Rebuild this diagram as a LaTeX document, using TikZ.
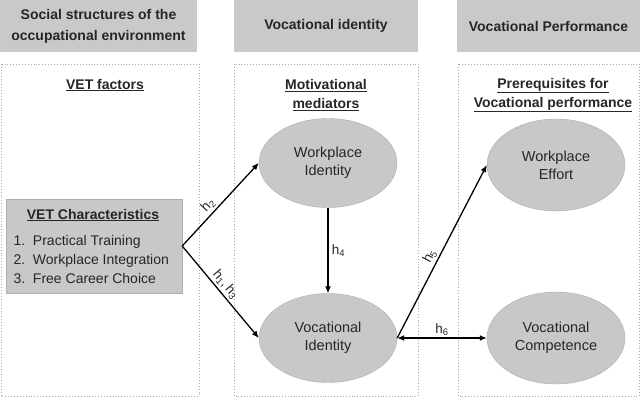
\documentclass[tikz,border=0pt]{standalone}
\usepackage{fontspec}
\setmainfont{Liberation Sans}
\usetikzlibrary{arrows.meta,positioning,shapes.geometric}
\definecolor{HeadGray}{HTML}{C9C9C9}
\definecolor{EllGray}{HTML}{C8C8C8}
\definecolor{EllLine}{HTML}{ADADAD}
\definecolor{PanelLine}{HTML}{A8A8A8}
\definecolor{InkGray}{HTML}{262626}
\tikzset{
  header/.style={fill=HeadGray, align=center, text=InkGray, inner sep=0pt,
    font=\bfseries\fontsize{14}{21}\selectfont, minimum height=52pt},
  panel/.style={draw=PanelLine, dotted, line width=0.9pt},
  subhead/.style={align=center, text=InkGray, font=\bfseries\fontsize{14}{19}\selectfont},
  factor/.style={ellipse, draw=EllLine, fill=EllGray, align=center, text=InkGray,
    inner sep=0pt, font=\fontsize{14.5}{18}\selectfont, minimum width=138pt, minimum height=89pt},
  vetbox/.style={draw=EllLine, fill=EllGray, minimum width=176pt, minimum height=94pt},
  wire/.style={-{Latex[length=7pt,width=6pt]}, line width=1.3pt},
  hlabel/.style={font=\fontsize{13.5}{15}\selectfont, text=InkGray, sloped, above, inner sep=2pt}
}
\begin{document}
\begin{tikzpicture}[x=1pt,y=1pt]
  \useasboundingbox (0,0) rectangle (640,400);
  \node[header, minimum width=197pt] (hsocial) at (98.5,374) {Social structures of the\\occupational environment};
  \node[header, minimum width=184pt] (hident) at (326,374) {Vocational identity};
  \node[header, minimum width=183pt] (hperf) at (548.5,374) {Vocational Performance};
  \draw[panel] (1,336) rectangle (199,4);
  \draw[panel] (234,336) rectangle (418,4);
  \draw[panel] (458,336) rectangle (639,4);
  \node[subhead] (svet) at (105,315) {\underline{VET factors}};
  \node[subhead] (smed) at (326,305) {\underline{Motivational}\\\underline{mediators}};
  \node[subhead] (spre) at (553,305) {\underline{Prerequisites for}\\\underline{Vocational performance}};
  \node[vetbox] (vet) at (94,154) {};
  \node[subhead] (vettitle) at (93,185) {\underline{VET Characteristics}};
  \node[align=left, anchor=west, text=InkGray, font=\fontsize{14}{19}\selectfont] (vetlist) at (10,141)
    {1.\ \ Practical Training\\2.\ \ Workplace Integration\\3.\ \ Free Career Choice};
  \node[factor] (wi) at (328,237) {Workplace\\Identity};
  \node[factor] (vi) at (328,62) {Vocational\\Identity};
  \node[factor, minimum height=92pt] (we) at (556,235) {Workplace\\Effort};
  \node[factor, minimum height=92pt] (vc) at (556,62) {Vocational\\Competence};
  \draw[wire] (vet.east) -- node[hlabel, pos=0.42] {h\textsubscript{2}} (wi.west);
  \draw[wire] (vet.east) -- node[hlabel, pos=0.48] {h\textsubscript{1},\,h\textsubscript{3}} (vi.west);
  \draw[wire] (wi) -- node[right, text=InkGray, font=\fontsize{13.5}{15}\selectfont] {h\textsubscript{4}} (vi);
  \draw[wire] (vi.east) -- node[hlabel, pos=0.45] {h\textsubscript{5}} (we.west);
  \draw[wire, {Latex[length=7pt,width=6pt]}-{Latex[length=7pt,width=6pt]}] (vi.east) -- node[hlabel] {h\textsubscript{6}} (vc.west);
\end{tikzpicture}
\end{document}
